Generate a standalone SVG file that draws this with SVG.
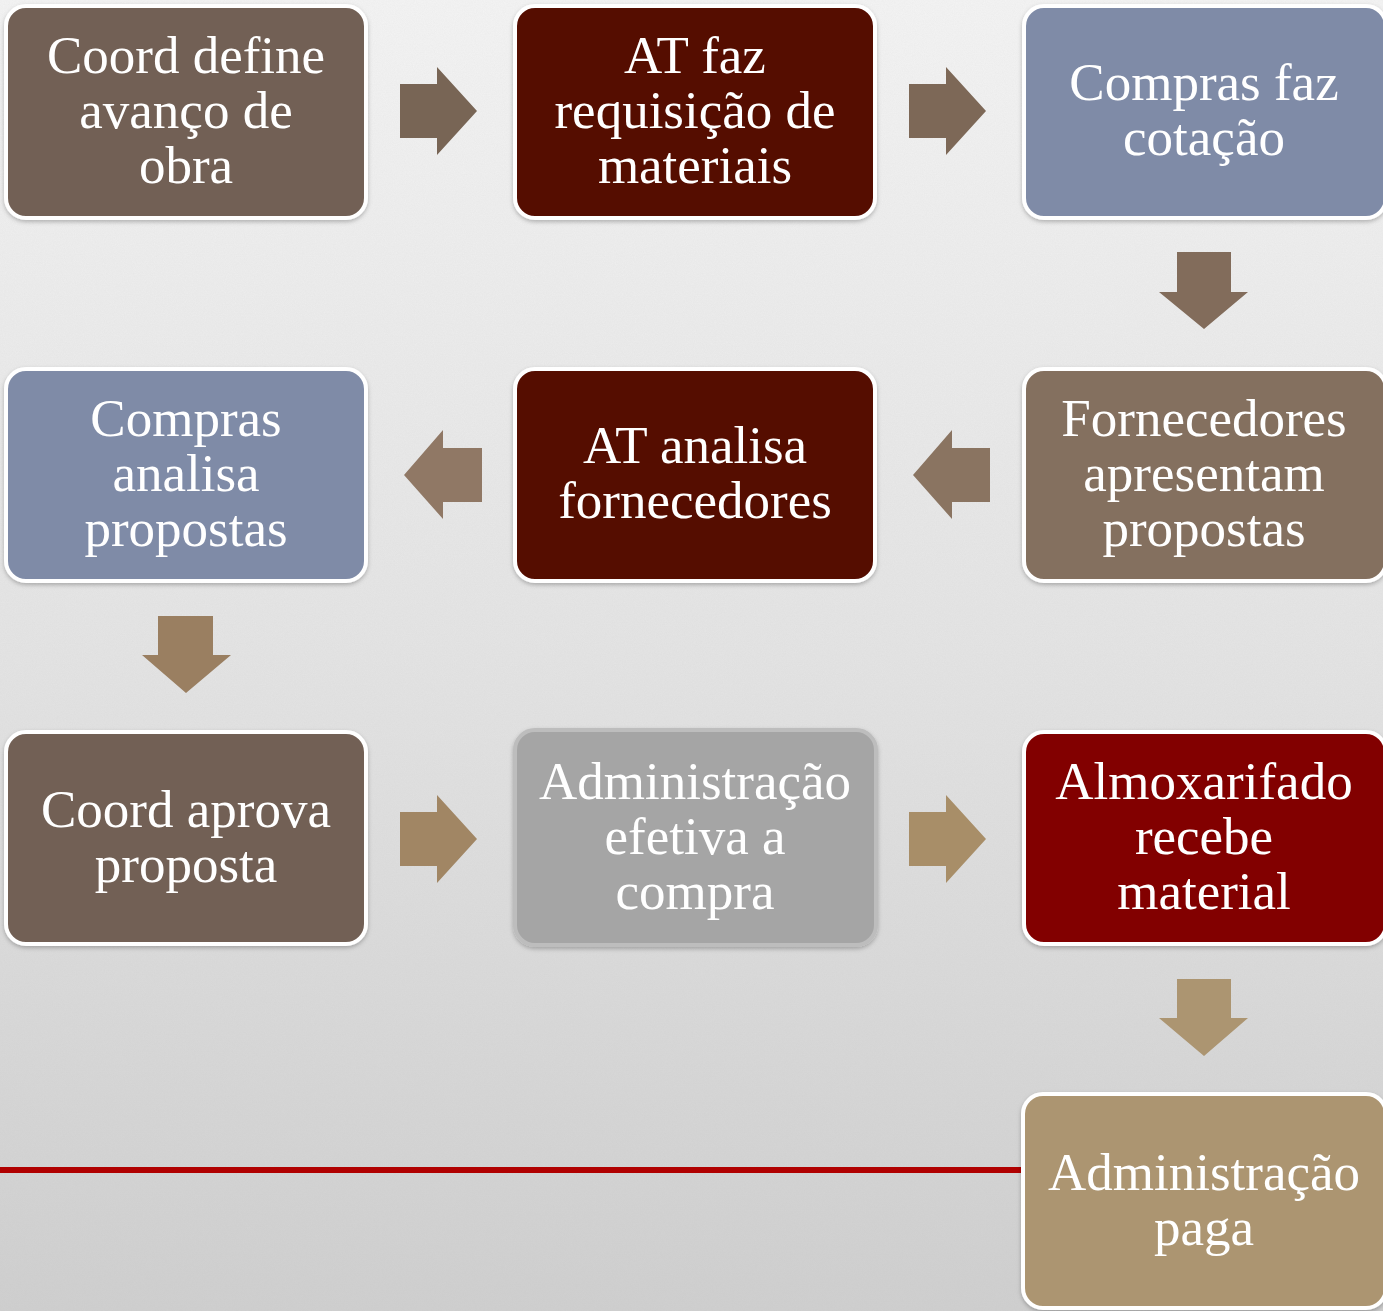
<svg xmlns="http://www.w3.org/2000/svg" width="1383" height="1311" viewBox="0 0 1383 1311">
  <defs>
    <linearGradient id="bg" x1="0" y1="0" x2="0" y2="1">
      <stop offset="0" stop-color="#f4f4f4"/>
      <stop offset="0.5" stop-color="#e4e4e4"/>
      <stop offset="1" stop-color="#cfcfcf"/>
    </linearGradient>
    <filter id="noise" x="0" y="0" width="100%" height="100%">
      <feTurbulence type="fractalNoise" baseFrequency="0.9" numOctaves="2" seed="3" result="t"/>
      <feColorMatrix type="matrix" values="0 0 0 0 0.5  0 0 0 0 0.5  0 0 0 0 0.5  0 0 0 0.35 0"/>
    </filter>
    <filter id="shadow" x="-5%" y="-5%" width="110%" height="115%">
      <feDropShadow dx="0" dy="2" stdDeviation="2" flood-color="#000" flood-opacity="0.25"/>
    </filter>
  </defs>
  <style>
    .box { stroke: #ffffff; stroke-width: 4; filter: url(#shadow); }
    .lbl { font-family: "Liberation Serif", "Times New Roman", serif; font-size: 53px; fill: #ffffff; text-anchor: middle; }
  </style>

  <rect x="0" y="0" width="1383" height="1311" fill="url(#bg)"/>
  <rect x="0" y="0" width="1383" height="1311" filter="url(#noise)" opacity="0.35"/>

  <line x1="0" y1="1170" x2="1024" y2="1170" stroke="#b00000" stroke-width="6"/>

  <g id="connectors">
    <polygon points="400,84 437,84 437,67 477,111 437,155 437,138 400,138" fill="#786555"/>
    <polygon points="909,84 946,84 946,67 986,111 946,155 946,138 909,138" fill="#7d6857"/>
    <polygon points="1177,252 1231,252 1231,292 1248,292 1204,329 1159,292 1177,292" fill="#826c5b"/>
    <polygon points="990,448 952,448 952,430 913,475 952,519 952,502 990,502" fill="#8a7461"/>
    <polygon points="482,448 443,448 443,430 404,475 443,519 443,502 482,502" fill="#907865"/>
    <polygon points="158,616 213,616 213,655 231,655 186,693 142,655 158,655" fill="#9a7f61"/>
    <polygon points="400,812 437,812 437,795 477,839 437,883 437,866 400,866" fill="#a18664"/>
    <polygon points="909,812 946,812 946,795 986,839 946,883 946,866 909,866" fill="#a88e68"/>
    <polygon points="1177,979 1231,979 1231,1018 1248,1018 1204,1056 1159,1018 1177,1018" fill="#ac9571"/>
  </g>

  <g id="n1">
    <rect class="box" x="6" y="6" width="360" height="212" rx="20" fill="#726055"/>
    <text class="lbl" x="186" y="73">Coord define</text>
    <text class="lbl" x="186" y="128">avanço de</text>
    <text class="lbl" x="186" y="183">obra</text>
  </g>
  <g id="n2">
    <rect class="box" x="515" y="6" width="360" height="212" rx="20" fill="#540c00"/>
    <text class="lbl" x="695" y="73">AT faz</text>
    <text class="lbl" x="695" y="128">requisição de</text>
    <text class="lbl" x="695" y="183">materiais</text>
  </g>
  <g id="n3">
    <rect class="box" x="1024" y="6" width="362" height="212" rx="20" fill="#7f8ba7"/>
    <text class="lbl" x="1204" y="100">Compras faz</text>
    <text class="lbl" x="1204" y="155">cotação</text>
  </g>
  <g id="n4">
    <rect class="box" x="1024" y="369" width="362" height="212" rx="20" fill="#846f5e"/>
    <text class="lbl" x="1204" y="436">Fornecedores</text>
    <text class="lbl" x="1204" y="491">apresentam</text>
    <text class="lbl" x="1204" y="546">propostas</text>
  </g>
  <g id="n5">
    <rect class="box" x="515" y="369" width="360" height="212" rx="20" fill="#540c00"/>
    <text class="lbl" x="695" y="463">AT analisa</text>
    <text class="lbl" x="695" y="518">fornecedores</text>
  </g>
  <g id="n6">
    <rect class="box" x="6" y="369" width="360" height="212" rx="20" fill="#7f8ba7"/>
    <text class="lbl" x="186" y="436">Compras</text>
    <text class="lbl" x="186" y="491">analisa</text>
    <text class="lbl" x="186" y="546">propostas</text>
  </g>
  <g id="n7">
    <rect class="box" x="6" y="732" width="360" height="212" rx="20" fill="#726055"/>
    <text class="lbl" x="186" y="827">Coord aprova</text>
    <text class="lbl" x="186" y="882">proposta</text>
  </g>
  <g id="n8">
    <rect class="box" x="515" y="730" width="361" height="215" rx="20" fill="#a5a5a5" style="stroke:#bdbdbd"/>
    <text class="lbl" x="695" y="799">Administração</text>
    <text class="lbl" x="695" y="854">efetiva a</text>
    <text class="lbl" x="695" y="909">compra</text>
  </g>
  <g id="n9">
    <rect class="box" x="1024" y="732" width="362" height="212" rx="20" fill="#820000"/>
    <text class="lbl" x="1204" y="799">Almoxarifado</text>
    <text class="lbl" x="1204" y="854">recebe</text>
    <text class="lbl" x="1204" y="909">material</text>
  </g>
  <g id="n10">
    <rect class="box" x="1023" y="1094" width="363" height="214" rx="20" fill="#ac9571"/>
    <text class="lbl" x="1204" y="1190">Administração</text>
    <text class="lbl" x="1204" y="1245">paga</text>
  </g>
</svg>
